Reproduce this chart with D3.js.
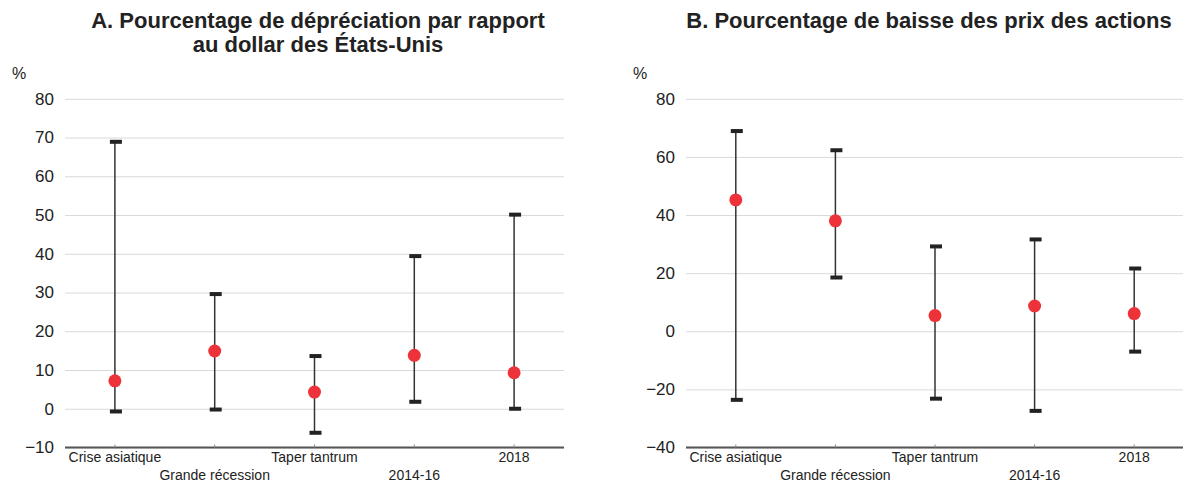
<!DOCTYPE html>
<html>
<head>
<meta charset="utf-8">
<script src="https://cdn.jsdelivr.net/npm/d3@7"></script>
<style>
  body { margin: 0; background: #fff; }
  svg { display: block; font-family: "Liberation Sans", Arial, Helvetica, sans-serif; }
</style>
</head>
<body>
<svg class="chart" width="1183" height="484"></svg>
<script>
const categories = ["Crise asiatique", "Grande récession", "Taper tantrum", "2014-16", "2018"];

// panel A: depreciation vs US dollar
const depMin = [-0.7, -0.2, -6.2, 1.8, 0.0];
const depMax = [68.9, 29.6, 13.6, 39.4, 50.1];
const depPoint = [7.2, 14.9, 4.3, 13.8, 9.3];
const depTicks = [-10, 0, 10, 20, 30, 40, 50, 60, 70, 80];

// panel B: stock price decline
const stockMin = [-23.6, 18.5, -23.2, -27.4, -7.0];
const stockMax = [68.9, 62.3, 29.2, 31.6, 21.6];
const stockPoint = [45.2, 38.0, 5.4, 8.7, 6.1];
const stockTicks = [-40, -20, 0, 20, 40, 60, 80];

const svg = d3.select(".chart");

const drawPanel = (opts) => {
  const g = svg.append("g");

  const x = d3.scaleBand().domain(categories).range([opts.x0, opts.x1]);
  const y = d3.scaleLinear().domain(d3.extent(opts.ticks)).range([447.5, 98.8]);

  // title
  opts.title.forEach((line, i) => {
    g.append("text")
      .attr("x", opts.titleX)
      .attr("y", 28 + i * 24)
      .attr("text-anchor", "middle")
      .attr("font-size", 22)
      .attr("font-weight", "bold")
      .attr("fill", "#222")
      .text(line);
  });

  // unit label
  g.append("text")
    .attr("x", opts.x0 - 53)
    .attr("y", 79)
    .attr("font-size", 16)
    .attr("fill", "#222")
    .text("%");

  // y axis + gridlines
  const yAxis = g.append("g")
    .attr("transform", `translate(${opts.x0},0)`)
    .call(
      d3.axisLeft(y)
        .tickValues(opts.ticks)
        .tickSize(-(opts.x1 - opts.x0))
        .tickPadding(11)
        .tickFormat(d3.format("d"))
    );
  yAxis.select(".domain").remove();
  yAxis.selectAll(".tick line").attr("stroke", "#d9d9d9").attr("stroke-width", 1);
  yAxis.selectAll(".tick text")
    .attr("font-size", 17)
    .attr("fill", "#222")
    .attr("font-family", "Liberation Sans, Arial, sans-serif");

  // x axis line and small ticks
  const baseY = y(opts.ticks[0]);
  g.append("line")
    .attr("x1", opts.x0)
    .attr("x2", opts.x1)
    .attr("y1", baseY)
    .attr("y2", baseY)
    .attr("stroke", "#555")
    .attr("stroke-width", 2);

  categories.forEach((c, i) => {
    const cx = x(c) + x.bandwidth() / 2;
    g.append("line")
      .attr("x1", cx).attr("x2", cx)
      .attr("y1", baseY - 3).attr("y2", baseY)
      .attr("stroke", "#888")
      .attr("stroke-width", 1);

    g.append("text")
      .attr("x", cx)
      .attr("y", i % 2 === 0 ? 462 : 480)
      .attr("text-anchor", "middle")
      .attr("font-size", 14)
      .attr("fill", "#222")
      .text(c);
  });

  // ranges
  categories.forEach((c, i) => {
    const cx = x(c) + x.bandwidth() / 2;
    g.append("line")
      .attr("x1", cx).attr("x2", cx)
      .attr("y1", y(opts.min[i]))
      .attr("y2", y(opts.max[i]))
      .attr("stroke", "#333")
      .attr("stroke-width", 1.5);

    [opts.min[i], opts.max[i]].forEach((v) => {
      g.append("rect")
        .attr("x", cx - 5)
        .attr("y", y(v) - 2)
        .attr("width", 12)
        .attr("height", 4)
        .attr("fill", "#222");
    });

    g.append("circle")
      .attr("cx", cx)
      .attr("cy", y(opts.point[i]))
      .attr("r", 6.5)
      .attr("fill", "#ee3239");
  });
};

drawPanel({
  x0: 65,
  x1: 564,
  titleX: 318,
  title: ["A. Pourcentage de dépréciation par rapport", "au dollar des États-Unis"],
  ticks: depTicks,
  min: depMin,
  max: depMax,
  point: depPoint
});

drawPanel({
  x0: 686,
  x1: 1184,
  titleX: 929,
  title: ["B. Pourcentage de baisse des prix des actions"],
  ticks: stockTicks,
  min: stockMin,
  max: stockMax,
  point: stockPoint
});
</script>
</body>
</html>
